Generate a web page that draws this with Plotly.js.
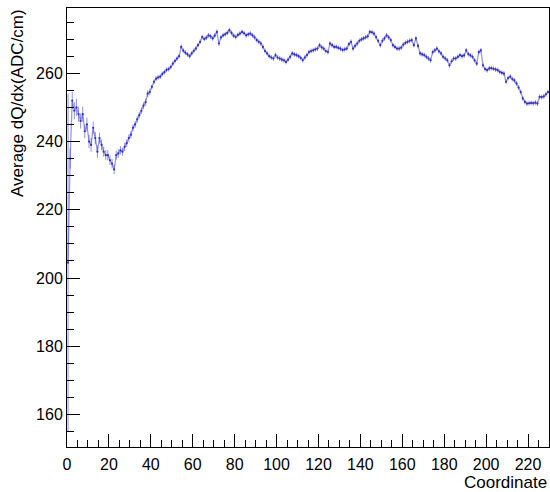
<!DOCTYPE html>
<html>
<head>
<meta charset="utf-8">
<script src="https://cdn.plot.ly/plotly-3.0.1.min.js"></script>
<style>html,body{margin:0;padding:0;background:#fff;}#chart{width:550px;height:492px;}</style>
</head>
<body>
<div id="chart"></div>
<script>
// Bin centres (bin width 1, 0..230)
var binCenters = [];
for (var i = 0; i < 230; i++) binCenters.push(i + 0.5);

// Average dQ/dx per bin (ADC/cm)
var dqdx = [
 204.5,235,252,249,250,248,246,248,243,245,
 240,239,244,241,237,241,239,237,236,236,
 234.5,233.5,231.8,236,236.5,237.4,237,238.4,239.5,241,
 242,244,245,246.5,247.7,249,250.5,251.5,254,254.5,
 256,257.5,258.4,258.8,259,259.8,260.3,261,261.2,261.8,
 262.8,263.6,264.3,265,267.7,266.6,266,265.5,265,265.8,
 266.5,267.2,268.2,269.2,270.6,270,270.4,271.1,270.8,270.2,
 271,272.1,268.7,270.5,271.1,271.4,271.8,272.6,271.8,271,
 270.6,271.2,271.6,272.1,271.7,271.1,271.4,271.6,271.1,270.5,
 269.7,269.2,268.7,267.7,266.5,265.8,265,264.6,264.3,265.3,
 264.6,264.3,264,263.8,263.3,264,264.8,265.8,265.5,265.3,
 265,264.5,263.8,264.6,265.3,266.2,266.5,266.7,267,267.2,
 268.2,267.6,267.2,266.5,266.2,268.7,268.2,267.7,267.7,267.4,
 267.2,266.8,267,267.2,268.5,269.2,267.2,268,268.7,269.5,
 269.9,270.2,270.5,270.8,272.1,272,271.6,270.6,269.5,268.2,
 269.5,270.2,271.1,270.5,269.7,268.2,267.7,267.2,267.2,267.5,
 268.4,268.9,269.2,269.5,269.7,268.2,270.2,268,265.8,265.5,
 265.3,264.8,264.3,263.8,266.2,266.7,267.2,266.4,265.8,264.8,
 264.3,263.8,262.3,263.5,264.3,264.3,264.8,265.3,265,265.2,
 266.7,265.6,265.2,264.8,263.8,262.8,266.2,266.7,262.3,261.2,
 260.9,261.4,261.5,261.3,261.1,260.9,260.4,260.1,259.9,257.5,
 258.6,259,258.3,257.9,257,255.8,254.5,252.6,251.6,251.1,
 251.2,251.3,251.2,251.4,251.1,253.1,253,253.2,253.8,254.5
];

// Statistical errors per bin
var dqdxErr = [
 49.5,3,2.5,2.5,2.5,2.2,2.2,2.2,2,2,
 2,2,1.8,1.8,1.8,1.6,1.6,1.5,1.5,1.5,
 1.4,1.4,1.4,1.3,1.3,1.2,1.2,1.2,1.1,1.1,
 1.1,1,1,1,1,1,1,1,1,1,
 0.7,0.7,0.7,0.7,0.7,0.7,0.7,0.7,0.7,0.7,
 0.7,0.7,0.7,0.7,0.7,0.7,0.7,0.7,0.7,0.7,
 0.7,0.7,0.7,0.7,0.7,0.7,0.7,0.7,0.7,0.7,
 0.7,0.7,0.7,0.7,0.7,0.7,0.7,0.7,0.7,0.7,
 0.7,0.7,0.7,0.7,0.7,0.7,0.7,0.7,0.7,0.7,
 0.7,0.7,0.7,0.7,0.7,0.7,0.7,0.7,0.7,0.7,
 0.7,0.7,0.7,0.7,0.7,0.7,0.7,0.7,0.7,0.7,
 0.7,0.7,0.7,0.7,0.7,0.7,0.7,0.7,0.7,0.7,
 0.7,0.7,0.7,0.7,0.7,0.7,0.7,0.7,0.7,0.7,
 0.7,0.7,0.7,0.7,0.7,0.7,0.7,0.7,0.7,0.7,
 0.7,0.7,0.7,0.7,0.7,0.7,0.7,0.7,0.7,0.7,
 0.7,0.7,0.7,0.7,0.7,0.7,0.7,0.7,0.7,0.7,
 0.7,0.7,0.7,0.7,0.7,0.7,0.7,0.7,0.7,0.7,
 0.7,0.7,0.7,0.7,0.7,0.7,0.7,0.7,0.7,0.7,
 0.7,0.7,0.7,0.7,0.7,0.7,0.7,0.7,0.7,0.7,
 0.7,0.7,0.7,0.7,0.7,0.7,0.7,0.7,0.7,0.7,
 0.7,0.7,0.7,0.7,0.7,0.7,0.7,0.7,0.7,0.7,
 0.7,0.7,0.7,0.7,0.7,0.7,0.7,0.7,0.7,0.7,
 0.7,0.7,0.7,0.7,0.7,0.7,0.7,0.7,0.7,0.7
];

var xTickVals = [0,20,40,60,80,100,120,140,160,180,200,220];
var yTickVals = [160,180,200,220,240,260];
var xTitle = "Coordinate";
var yTitle = "Average dQ/dx(ADC/cm)";

var markerColor = '#3030c0';
var lineColor = 'rgba(70,70,215,0.55)';

var trace = {
  type: 'scatter',
  mode: 'lines+markers',
  x: binCenters,
  y: dqdx,
  line: {color: lineColor, width: 1.3},
  marker: {size: 2.2, color: markerColor},
  error_y: {type: 'data', array: dqdxErr, visible: true, color: 'rgba(70,70,215,0.6)', thickness: 1, width: 0},
  hoverinfo: 'x+y'
};

var font = {family: '"Liberation Sans", Arial, Helvetica, sans-serif', color: '#000'};

var layout = {
  width: 550, height: 492,
  margin: {l: 67, r: 1, t: 8, b: 45, pad: 0},
  paper_bgcolor: '#fff', plot_bgcolor: '#fff',
  showlegend: false,
  font: font,
  xaxis: {
    range: [0, 230], tickvals: xTickVals, ticktext: xTickVals.map(String),
    ticks: 'inside', ticklen: 13, tickwidth: 1, tickcolor: '#000',
    minor: {dtick: 5, tick0: 0, ticks: 'inside', ticklen: 7, tickcolor: '#000', tickwidth: 1, showgrid: false},
    showline: true, linecolor: '#000', linewidth: 1, mirror: true,
    showgrid: false, zeroline: false,
    tickfont: {family: font.family, size: 16, color: '#000'},
    ticklabelstandoff: 3
  },
  yaxis: {
    range: [150.5, 279.1], tickvals: yTickVals, ticktext: yTickVals.map(String),
    ticks: 'inside', ticklen: 13, tickwidth: 1, tickcolor: '#000',
    minor: {dtick: 5, tick0: 0, ticks: 'inside', ticklen: 7, tickcolor: '#000', tickwidth: 1, showgrid: false},
    showline: true, linecolor: '#000', linewidth: 1, mirror: true,
    showgrid: false, zeroline: false,
    tickfont: {family: font.family, size: 16, color: '#000'},
    ticklabelstandoff: 0
  },
  annotations: [
    {text: xTitle, xref: 'paper', yref: 'paper', x: 1, y: -0.0815, xanchor: 'right', yanchor: 'middle',
     showarrow: false, font: {family: font.family, size: 17, color: '#000'}},
    {text: yTitle, xref: 'paper', yref: 'paper', x: -0.104, y: 1.002, xanchor: 'center', yanchor: 'top',
     textangle: -90, showarrow: false, font: {family: font.family, size: 17, color: '#000'}}
  ]
};

Plotly.newPlot('chart', [trace], layout, {displayModeBar: false, staticPlot: true});
</script>
</body>
</html>
